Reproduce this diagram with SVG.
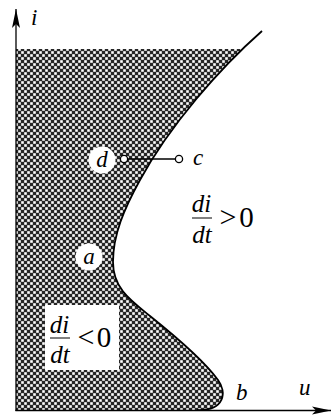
<svg xmlns="http://www.w3.org/2000/svg" width="331" height="416" viewBox="0 0 331 416">
<style>
.ax{stroke:#000;stroke-width:1.3;fill:none}
.crv{stroke:#000;stroke-width:1.8;fill:none}
.m{font-family:"Liberation Serif","DejaVu Serif",serif;font-style:italic;fill:#000}
.n{font-family:"Liberation Serif","DejaVu Serif",serif;fill:#000}
.lbl{fill:#fff;stroke:none}
.pt{fill:#fff;stroke:#000;stroke-width:1.3}
</style>
<defs>
<pattern id="hatch" patternUnits="userSpaceOnUse" width="6" height="6">
<rect width="6" height="6" fill="#262626"/>
<rect x="0.2" y="0.2" width="2.6" height="2.6" fill="#fff"/>
<rect x="3.2" y="3.2" width="2.6" height="2.6" fill="#fff"/>
</pattern>
<marker id="arr" markerUnits="userSpaceOnUse" viewBox="-20 -5 20 10" markerWidth="20" markerHeight="10" refX="0" refY="0" orient="auto">
<path d="M0,0 L-19,-4 L-15,0 L-19,4 Z" fill="#000"/>
</marker>
<clipPath id="clipTop"><rect x="0" y="49" width="331" height="367"/></clipPath>
</defs>
<g id="region">
<path clip-path="url(#clipTop)" fill="url(#hatch)" d="M262,31 C220,68 170,125 140,180 C124,209 113,235 113,262 C113,288 130,300 150,316 C175,336 205,362 218,380 C227,392 225,411 197,410 L16,410 L16,31 Z"/>
</g>
<g id="connectors">
<line class="ax" x1="16" y1="411" x2="16" y2="9" marker-end="url(#arr)"/>
<line class="ax" x1="15.4" y1="410.5" x2="331" y2="410.5" marker-end="url(#arr)"/>
<path class="crv" d="M262,31 C220,68 170,125 140,180 C124,209 113,235 113,262 C113,288 130,300 150,316 C175,336 205,362 218,380 C227,392 225,411 197,410"/>
<line class="ax" x1="124" y1="159" x2="179" y2="159"/>
</g>
<g id="node-d">
<circle class="lbl" cx="102" cy="160" r="13.5"/>
<text class="m" x="102" y="167" font-size="23" text-anchor="middle">d</text>
<circle class="pt" cx="124" cy="159" r="3.6"/>
</g>
<g id="node-c">
<circle class="pt" cx="179" cy="159" r="3.6"/>
<text class="m" x="193" y="165" font-size="23">c</text>
</g>
<g id="node-a">
<circle class="lbl" cx="89" cy="257" r="13.5"/>
<text class="m" x="89" y="263.5" font-size="23" text-anchor="middle">a</text>
</g>
<g id="node-b">
<text class="m" x="236" y="400" font-size="23">b</text>
</g>
<g id="label-i">
<text class="m" x="31" y="25" font-size="23">i</text>
</g>
<g id="label-u">
<text class="m" x="299" y="395" font-size="23">u</text>
</g>
<g id="label-pos">
<text class="m" x="201.5" y="212" font-size="25" text-anchor="middle">di</text>
<line x1="192" y1="218" x2="212" y2="218" stroke="#000" stroke-width="1"/>
<text class="m" x="202" y="243" font-size="25" text-anchor="middle">dt</text>
<text class="n" x="228" y="227" font-size="30" text-anchor="middle">&gt;</text>
<text class="n" x="246.5" y="227" font-size="29" text-anchor="middle">0</text>
</g>
<g id="label-neg">
<rect x="45" y="305" width="74" height="65" fill="#fff"/>
<text class="m" x="59.5" y="333" font-size="25" text-anchor="middle">di</text>
<line x1="50" y1="338" x2="70" y2="338" stroke="#000" stroke-width="1"/>
<text class="m" x="60" y="363" font-size="25" text-anchor="middle">dt</text>
<text class="n" x="86" y="347" font-size="30" text-anchor="middle">&lt;</text>
<text class="n" x="104" y="347" font-size="29" text-anchor="middle">0</text>
</g>
</svg>
